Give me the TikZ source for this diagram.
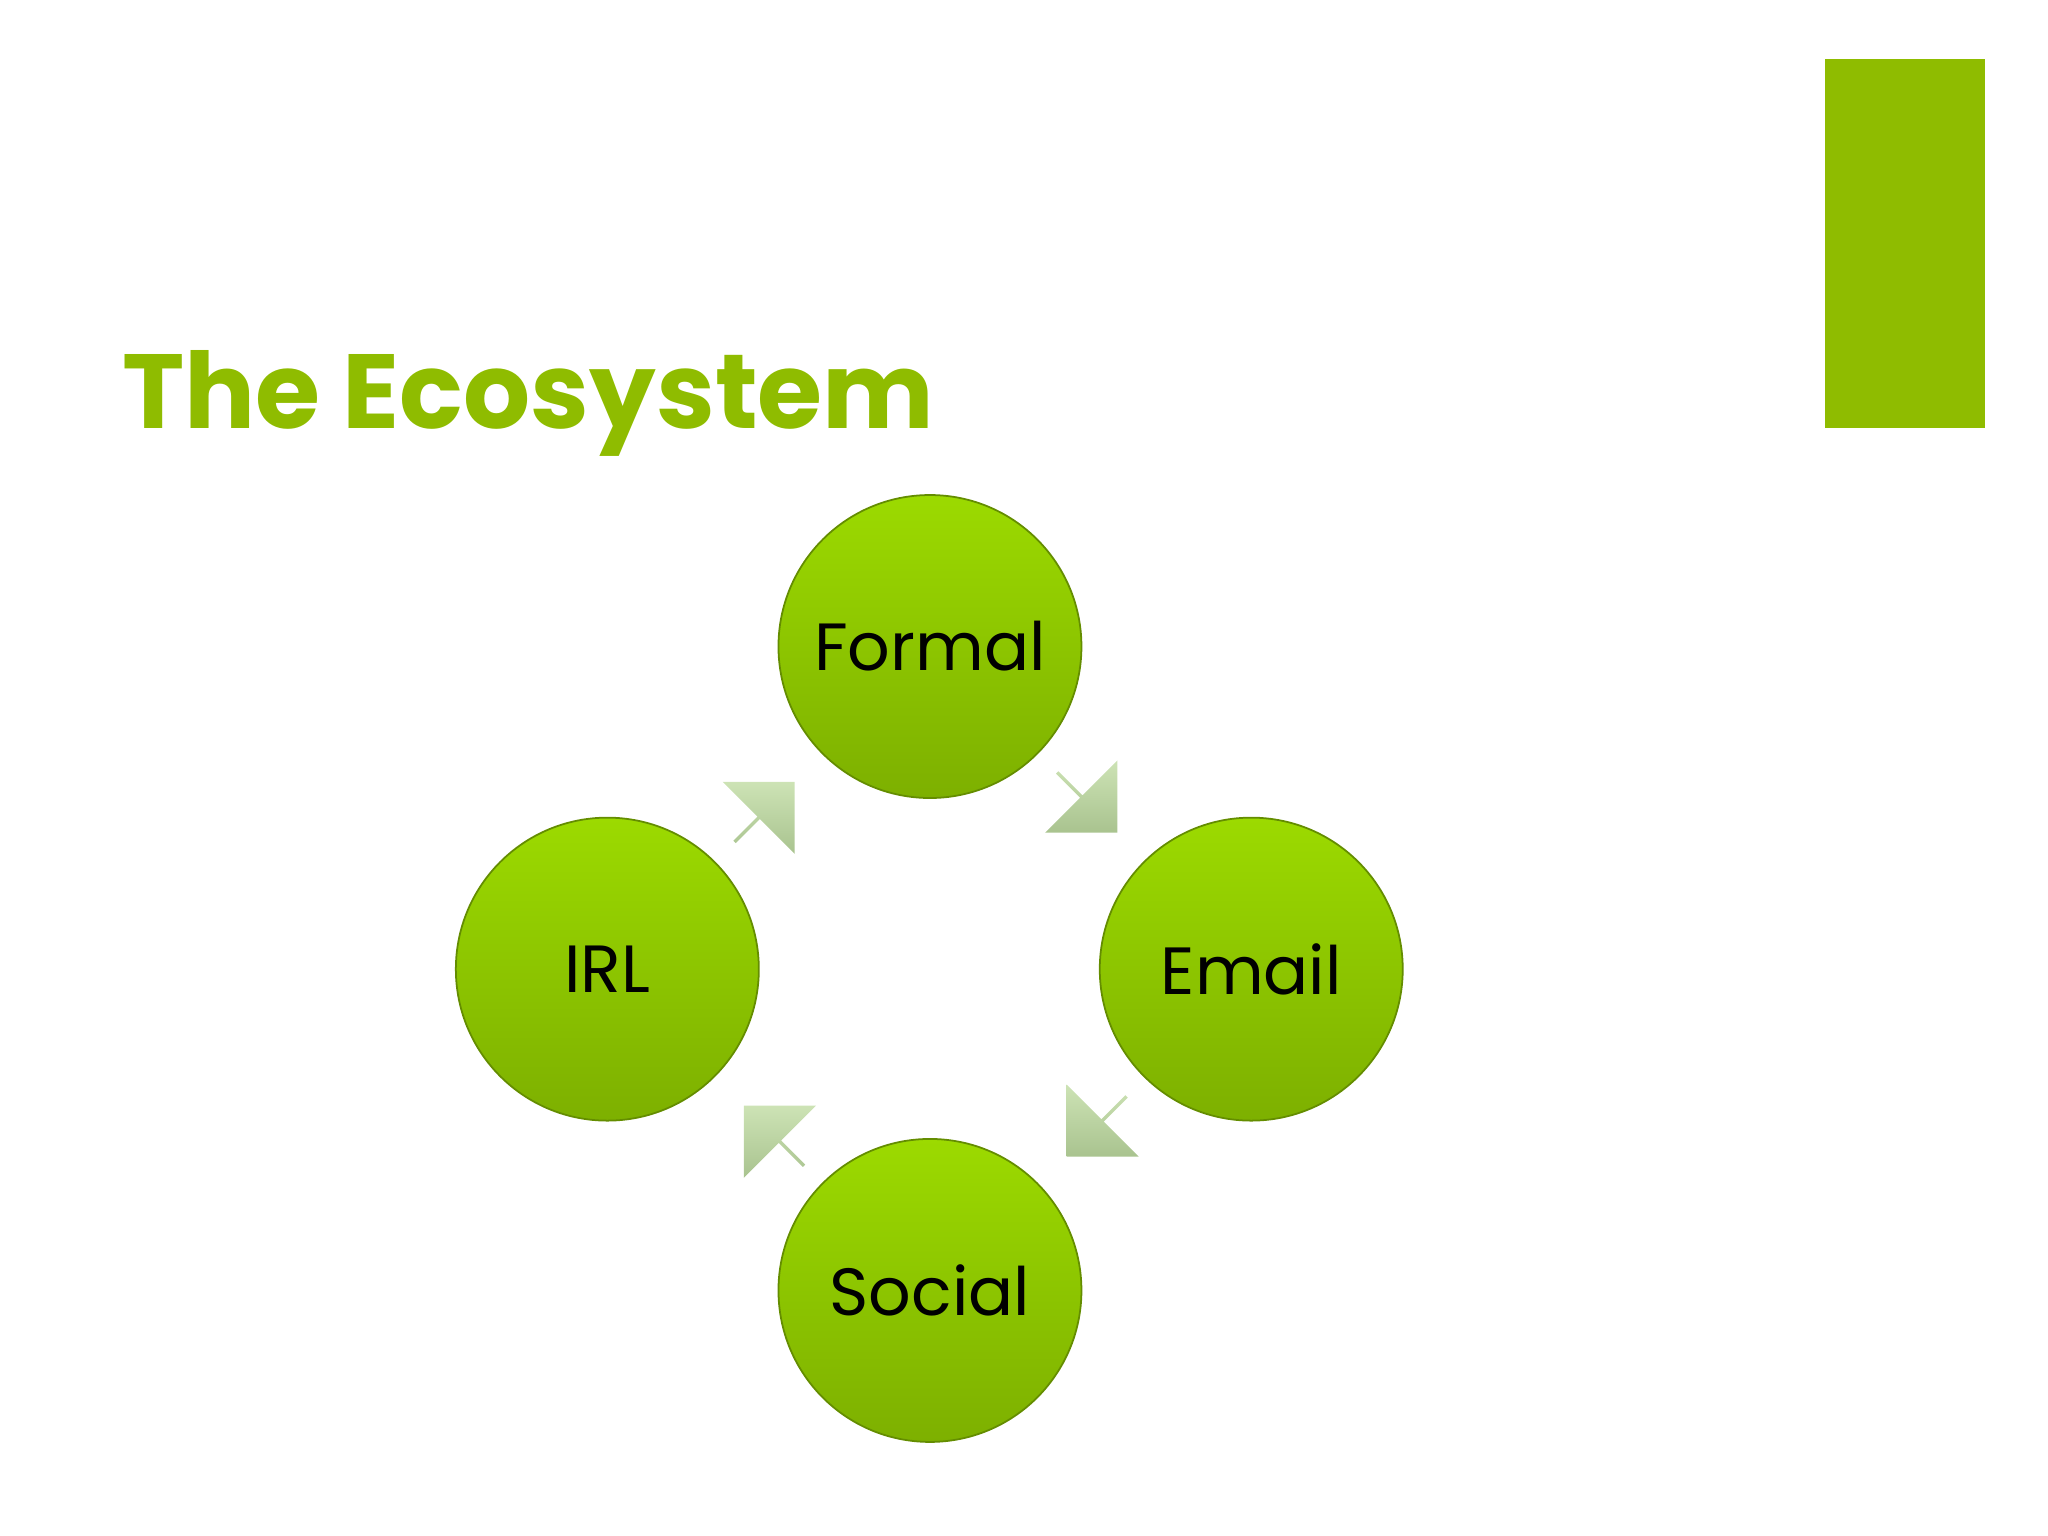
\documentclass[tikz,border=0pt]{standalone}
\usepackage{fontspec}
\setmainfont{Poppins}
\usetikzlibrary{shapes.arrows}
\definecolor{bar}{HTML}{8FBC00}
\definecolor{gtop}{HTML}{9CDA00}
\definecolor{gbot}{HTML}{7DB000}
\definecolor{atop}{HTML}{CDE3B5}
\definecolor{abot}{HTML}{A9C38F}
\begin{document}
\begin{tikzpicture}[x=0.01306cm,y=-0.01306cm,
  ball/.style={circle,minimum size=3.03cm,inner sep=0pt,top color=gtop,bottom color=gbot,draw=gbot!80!black,line width=0.5pt,font=\fontsize{19}{22}\selectfont},
  arr/.style={single arrow,single arrow head extend=0.21cm,minimum width=1.02cm,minimum height=0.85cm,inner sep=0pt,top color=atop,bottom color=abot,draw=none}]
\useasboundingbox (0,0) rectangle (1568,1176);
\fill[bar] (1397,45) rectangle (1520,328);
\node[anchor=base west,text=bar,inner sep=0pt,font=\fontsize{30}{34}\bfseries\selectfont] (title) at (93,328) {The Ecosystem};
\node[ball] (formal) at (712,495) {Formal};
\node[ball] (email) at (958,742) {Email};
\node[ball] (irl) at (465,742) {IRL};
\node[ball] (social) at (712,988) {Social};
\node[arr,rotate=-45] (a1) at (832,614) {};
\node[arr,rotate=-135] (a2) at (840,862) {};
\node[arr,rotate=135] (a3) at (593,870) {};
\node[arr,rotate=45] (a4) at (585,622) {};
\end{tikzpicture}
\end{document}
